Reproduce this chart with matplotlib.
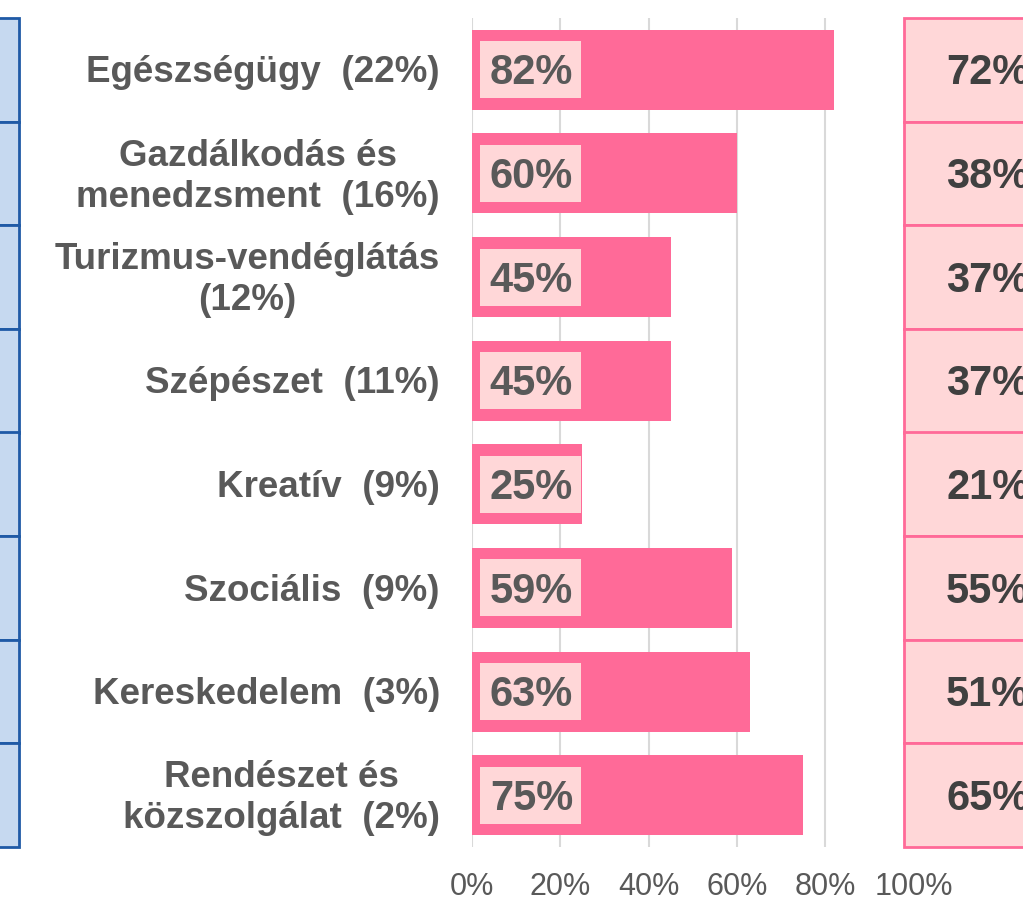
import matplotlib
matplotlib.use("Agg")
import matplotlib.pyplot as plt
from matplotlib.patches import Rectangle

plt.rcParams['font.family'] = ['Liberation Sans', 'DejaVu Sans']

categories = [
    "Egészségügy  (22%)",
    "Gazdálkodás és\nmenedzsment  (16%)",
    "Turizmus-vendéglátás\n(12%)",
    "Szépészet  (11%)",
    "Kreatív  (9%)",
    "Szociális  (9%)",
    "Kereskedelem  (3%)",
    "Rendészet és\nközszolgálat  (2%)",
]
bar_values = [0.82, 0.60, 0.45, 0.45, 0.25, 0.59, 0.63, 0.75]
right_values = [0.72, 0.38, 0.37, 0.37, 0.21, 0.55, 0.51, 0.65]
xticks = [0, 0.2, 0.4, 0.6, 0.8, 1.0]
xtick_labels = ["0%", "20%", "40%", "60%", "80%", "100%"]

W, H = 1023, 897
fig = plt.figure(figsize=(W / 100, H / 100), dpi=100)
fig.patch.set_facecolor('white')

ax_left_px, ax_right_px = 472, 913.5
ax_top_px, ax_bot_px = 18, 847
ax = fig.add_axes([ax_left_px / W, (H - ax_bot_px) / H,
                   (ax_right_px - ax_left_px) / W, (ax_bot_px - ax_top_px) / H])
unit = ax_right_px - ax_left_px          # px per 100%
row_px = (ax_bot_px - ax_top_px) / len(categories)

pink = '#FF6A98'
light_pink = '#FFD7D8'
grey_text = '#595959'
dark_text = '#404040'

n = len(categories)
ax.set_xlim(0, 1)
ax.set_ylim(n - 0.5, -0.5)

for x in xticks:
    ax.axvline(x, color='#D9D9D9', lw=1.5, zorder=0)

ax.barh(range(n), bar_values, height=80 / row_px, color=pink, zorder=2)

box_x0 = (480 - ax_left_px) / unit
box_w = 101 / unit
box_h = 57 / row_px
for i, v in enumerate(bar_values):
    ax.add_patch(Rectangle((box_x0, i - box_h / 2), box_w, box_h,
                           facecolor=light_pink, edgecolor='none', zorder=3))
    ax.text(box_x0 + box_w / 2 + 1 / unit, i + 0.035, f"{round(v * 100)}%", ha='center', va='center',
            fontsize=30, fontweight='bold', color=grey_text, zorder=4)

# category labels
lab_x = (440 - ax_left_px) / unit
for i, c in enumerate(categories):
    ax.text(lab_x, i + 0.03, c, ha='right', va='center', multialignment='center',
            fontsize=26.5, fontweight='bold', color=grey_text, linespacing=1.22)

# right panel
rp_x0 = (904 - ax_left_px) / unit
for i, v in enumerate(right_values):
    ax.add_patch(Rectangle((rp_x0, i - 0.5), 1.0, 1.0, facecolor=light_pink,
                           edgecolor=pink, lw=2, zorder=5, clip_on=False))
    ax.text((946 - ax_left_px) / unit, i + 0.035, f"{round(v * 100)}%", ha='left', va='center',
            fontsize=30, fontweight='bold', color=dark_text, zorder=6, clip_on=False)

# left panel
lp_x1 = (19 - ax_left_px) / unit
for i in range(n):
    ax.add_patch(Rectangle((lp_x1 - 1.0, i - 0.5), 1.0, 1.0, facecolor='#C6D9F0',
                           edgecolor='#1F5AA6', lw=2, zorder=5, clip_on=False))

ax.set_xticks(xticks)
ax.set_xticklabels(xtick_labels, fontsize=22, color=grey_text)
ax.tick_params(axis='x', length=0, pad=18)
ax.set_yticks([])
for s in ax.spines.values():
    s.set_visible(False)
ax.set_facecolor('none')

fig.savefig('out.png', dpi=100, facecolor='white')
